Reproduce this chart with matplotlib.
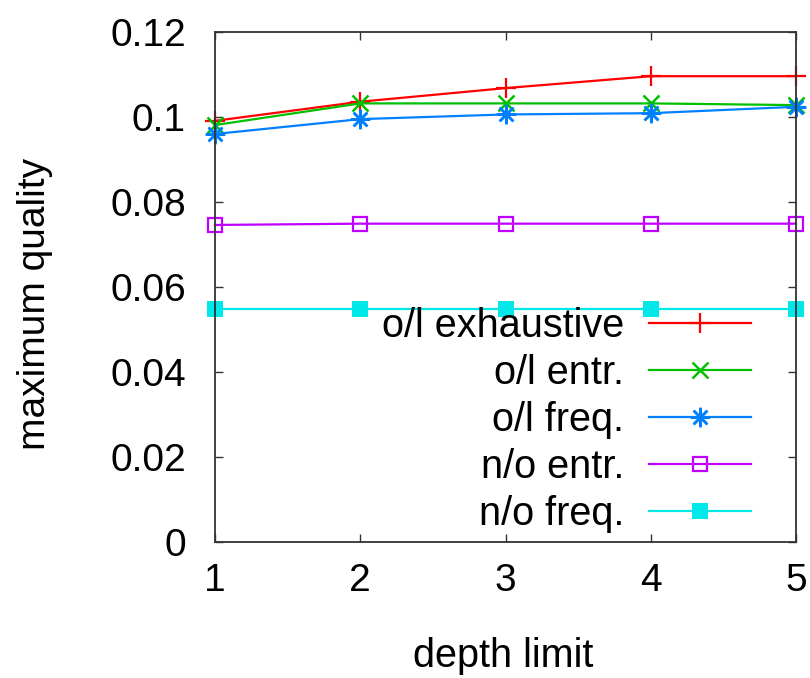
import numpy as np
import matplotlib
matplotlib.use('Agg')
import matplotlib.pyplot as plt

plt.rcParams['font.family'] = ['Liberation Sans', 'DejaVu Sans']

# Data
depth = [1, 2, 3, 4, 5]
ol_exhaustive = [0.0991, 0.1036, 0.1068, 0.1096, 0.1096]
ol_entr       = [0.0981, 0.1032, 0.1032, 0.1032, 0.1028]
ol_freq       = [0.0960, 0.0995, 0.1006, 0.1009, 0.1024]
no_entr       = [0.0746, 0.0749, 0.0749, 0.0749, 0.0749]
no_freq       = [0.0548, 0.0548, 0.0548, 0.0548, 0.0548]

labels = ['o/l exhaustive', 'o/l entr.', 'o/l freq.', 'n/o entr.', 'n/o freq.']
yticks = [0, 0.02, 0.04, 0.06, 0.08, 0.1, 0.12]
ytick_labels = ['0', '0.02', '0.04', '0.06', '0.08', '0.1', '0.12']

fs = 28

fig = plt.figure(figsize=(8.1, 6.78), dpi=100)
ax = fig.add_axes([215/810, 1-542/678, (796-215)/810, (542-32)/678])

lw = 1.6
ax.plot(depth, ol_exhaustive, '-', color='#ff0000', lw=lw, marker='+', ms=15, mew=1.6, clip_on=False, label=labels[0])
ax.plot(depth, ol_entr, '-', color='#00c000', lw=lw, marker='x', ms=12, mew=1.8, clip_on=False, label=labels[1])
ax.plot(depth, ol_freq, '-', color='#0080ff', lw=lw, marker=(8, 2, 0), ms=14, mew=1.8, clip_on=False, label=labels[2])
ax.plot(depth, no_entr, '-', color='#c000ff', lw=lw, marker='s', ms=10, mew=1.6, mfc='none', clip_on=False, label=labels[3])
ax.plot(depth, no_freq, '-', color='#00e8e8', lw=lw, marker='s', ms=11, mew=0, clip_on=False, label=labels[4])

ax.set_xlim(1, 5)
ax.set_ylim(0, 0.12)
ax.set_xticks(depth)
ax.set_yticks(yticks)
ax.set_yticklabels(ytick_labels)
ax.tick_params(direction='in', length=6, width=1, top=True, right=True, labelsize=fs, colors='#333333', labelcolor='black')
ax.tick_params(axis='y', pad=21)
ax.tick_params(axis='x', pad=15)
for s in ax.spines.values():
    s.set_linewidth(1.3)
    s.set_color('#333333')

fig.text(35/810, 1-304/678, 'maximum quality', rotation=90, ha='center', va='center', fontsize=fs)
fig.text(503/810, 1-667/678, 'depth limit', ha='center', va='baseline', fontsize=28.5)

leg = ax.legend(loc='lower right', bbox_to_anchor=(751/810, 1-533/678), bbox_transform=fig.transFigure,
                frameon=False, markerfirst=False, fontsize=28.5, handlelength=2.58, handletextpad=0.63,
                labelspacing=0.23, borderpad=0, borderaxespad=0)

fig.savefig('out.png', dpi=100)
